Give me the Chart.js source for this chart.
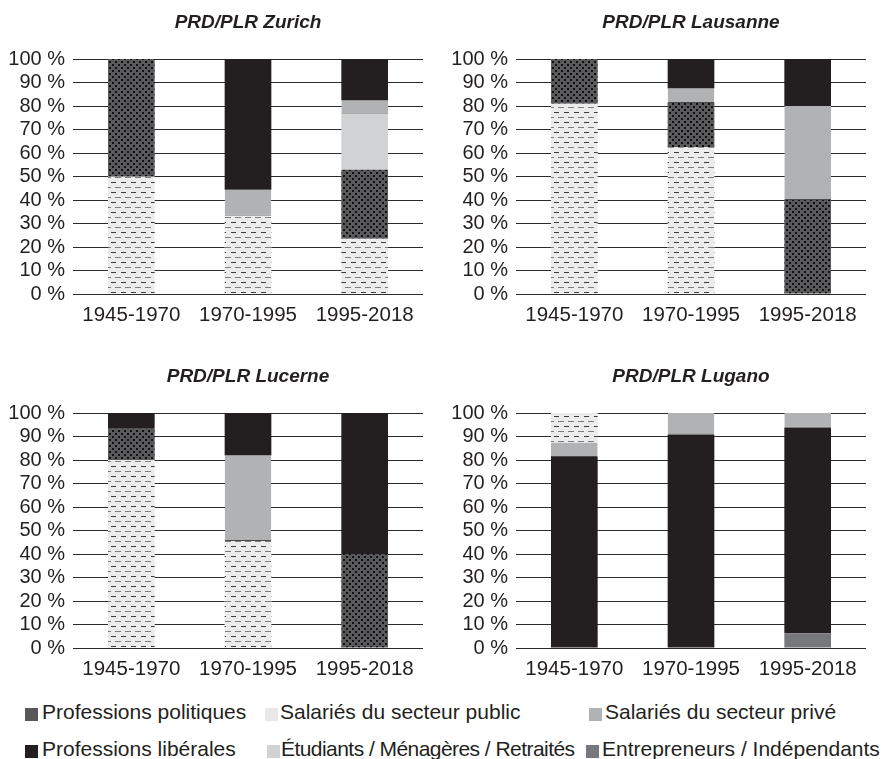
<!DOCTYPE html>
<html lang="fr">
<head>
<meta charset="utf-8">
<title>PRD/PLR – profils professionnels</title>
<script src="https://cdn.jsdelivr.net/npm/chart.js@4.4.1/dist/chart.umd.min.js"></script>
<style>
  html, body { margin: 0; padding: 0; background: #ffffff; }
  body { width: 887px; height: 759px; position: relative; overflow: hidden;
         font-family: "Liberation Sans", Arial, sans-serif; color: #231f20; }
  canvas { position: absolute; }
  .key { position: absolute; font-size: 21px; line-height: 24px; white-space: nowrap; }
  .sw { position: absolute; width: 13px; height: 13px; }
</style>
</head>
<body>
<canvas id="zurich" width="443" height="340" style="left:0;top:0"></canvas>
<canvas id="lausanne" width="443" height="340" style="left:443px;top:0"></canvas>
<canvas id="lucerne" width="443" height="340" style="left:0;top:354px"></canvas>
<canvas id="lugano" width="443" height="340" style="left:443px;top:354px"></canvas>
<div id="legend"></div>

<script>
// Periods on the x axis
const periods = ['1945-1970', '1970-1995', '1995-2018'];

// Occupational groups
const groupNames = {
  politiques: 'Professions politiques',
  public: 'Salariés du secteur public',
  prive: 'Salariés du secteur privé',
  liberales: 'Professions libérales',
  etudiants: 'Étudiants / Ménagères / Retraités',
  entrepreneurs: 'Entrepreneurs / Indépendants'
};

// Share of each group (%) per period, by section
const zurichPolitiques    = [50, 0, 29.4];
const zurichPublic        = [50, 33.3, 23.5];
const zurichPrive         = [0, 11.1, 5.9];
const zurichLiberales     = [0, 55.6, 17.6];
const zurichEtudiants     = [0, 0, 23.5];
const zurichEntrepreneurs = [0, 0, 0];

const lausannePolitiques    = [19, 18.75, 40];
const lausannePublic        = [81, 62.5, 0];
const lausannePrive         = [0, 6.25, 40];
const lausanneLiberales     = [0, 12.5, 20];
const lausanneEtudiants     = [0, 0, 0];
const lausanneEntrepreneurs = [0, 0, 0];

const lucernePolitiques    = [13.3, 0, 40];
const lucernePublic        = [80, 45.5, 0];
const lucernePrive         = [0, 36.4, 0];
const lucerneLiberales     = [6.7, 18.1, 60];
const lucerneEtudiants     = [0, 0, 0];
const lucerneEntrepreneurs = [0, 0, 0];

const luganoPolitiques    = [0, 0, 0];
const luganoPublic        = [12.5, 0, 0];
const luganoPrive         = [6.25, 9.1, 6.25];
const luganoLiberales     = [81.25, 90.9, 87.5];
const luganoEtudiants     = [0, 0, 0];
const luganoEntrepreneurs = [0, 0, 6.25];

// y-axis tick values
const yTicks = [0, 10, 20, 30, 40, 50, 60, 70, 80, 90, 100];

// Stacking order, bottom to top
const stackMain = ['public', 'politiques', 'etudiants', 'prive', 'liberales', 'entrepreneurs'];
const stackLugano = ['entrepreneurs', 'liberales', 'prive', 'public', 'politiques', 'etudiants'];

const FONT = '"Liberation Sans", Arial, Helvetica, sans-serif';
const INK = '#231f20';

// --- fills -------------------------------------------------------------
function dotPattern() {
  const c = document.createElement('canvas');
  c.width = 6; c.height = 6;
  const g = c.getContext('2d');
  g.fillStyle = '#5a5a5c';
  g.fillRect(0, 0, 6, 6);
  g.fillStyle = '#111111';
  g.fillRect(1, 1, 2, 2);
  g.fillRect(4, 4, 2, 2);
  return g.createPattern(c, 'repeat');
}
function dashPattern() {
  const c = document.createElement('canvas');
  c.width = 10; c.height = 10;
  const g = c.getContext('2d');
  g.fillStyle = '#ececec';
  g.fillRect(0, 0, 10, 10);
  g.fillStyle = '#3c3c3c';
  g.fillRect(1, 2, 5, 1);
  g.fillStyle = '#7d7d7d';
  g.fillRect(5, 7, 5, 1);
  g.fillRect(0, 7, 1, 1);
  return g.createPattern(c, 'repeat');
}
const fills = {
  politiques: dotPattern(),
  public: dashPattern(),
  prive: '#b1b2b4',
  liberales: '#231f20',
  etudiants: '#d1d2d4',
  entrepreneurs: '#77787b'
};
const swatch = {
  politiques: '#58585a',
  public: '#e8e8e8',
  prive: '#b1b2b4',
  liberales: '#231f20',
  etudiants: '#d1d2d4',
  entrepreneurs: '#77787b'
};

// --- charts ------------------------------------------------------------
function makeChart(id, title, series, order) {
  return new Chart(document.getElementById(id), {
    type: 'bar',
    data: {
      labels: periods,
      datasets: order.map(k => ({
        label: groupNames[k],
        // empty groups are left out so they draw no edge line
        data: series[k].map(v => (v === 0 ? null : v)),
        backgroundColor: fills[k],
        borderColor: '#4a4a4a',
        borderWidth: k === 'prive' ? { top: 0, left: 0, right: 0, bottom: 1 } : 0,
        borderSkipped: false,
        categoryPercentage: 1,
        barPercentage: 0.4
      }))
    },
    options: {
      responsive: false,
      animation: false,
      devicePixelRatio: 1,
      layout: { padding: { left: 0, right: 20, top: 0, bottom: 0 } },
      plugins: {
        legend: { display: false },
        tooltip: { enabled: false },
        title: {
          display: true,
          fullSize: false,
          text: title,
          color: INK,
          font: { family: FONT, size: 19, weight: 'bold', style: 'italic', lineHeight: 1.2 },
          padding: { top: 11, bottom: 25.2 }
        }
      },
      scales: {
        x: {
          stacked: true,
          grid: { display: false },
          border: { display: false },
          ticks: { color: INK, font: { family: FONT, size: 20.5 }, padding: 1, maxRotation: 0 },
          afterFit: s => { s.height = 46; }
        },
        y: {
          stacked: true,
          min: 0,
          max: 100,
          afterBuildTicks: s => { s.ticks = yTicks.map(v => ({ value: v })); },
          ticks: { color: INK, font: { family: FONT, size: 20 }, padding: 8, autoSkip: false,
                   callback: v => v + ' %' },
          grid: { color: '#2b2b2b', lineWidth: 1, drawTicks: false },
          border: { display: false },
          afterFit: s => { s.width = 73; }
        }
      }
    }
  });
}

makeChart('zurich', 'PRD/PLR Zurich', {
  politiques: zurichPolitiques, public: zurichPublic, prive: zurichPrive,
  liberales: zurichLiberales, etudiants: zurichEtudiants, entrepreneurs: zurichEntrepreneurs
}, stackMain);
makeChart('lausanne', 'PRD/PLR Lausanne', {
  politiques: lausannePolitiques, public: lausannePublic, prive: lausannePrive,
  liberales: lausanneLiberales, etudiants: lausanneEtudiants, entrepreneurs: lausanneEntrepreneurs
}, stackMain);
makeChart('lucerne', 'PRD/PLR Lucerne', {
  politiques: lucernePolitiques, public: lucernePublic, prive: lucernePrive,
  liberales: lucerneLiberales, etudiants: lucerneEtudiants, entrepreneurs: lucerneEntrepreneurs
}, stackMain);
makeChart('lugano', 'PRD/PLR Lugano', {
  politiques: luganoPolitiques, public: luganoPublic, prive: luganoPrive,
  liberales: luganoLiberales, etudiants: luganoEtudiants, entrepreneurs: luganoEntrepreneurs
}, stackLugano);

// --- shared legend -----------------------------------------------------
const legendSlots = [
  { k: 'politiques',    sx: 25,  tx: 42,  row: 0, ls: 0 },
  { k: 'public',        sx: 265, tx: 280, row: 0, ls: 0 },
  { k: 'prive',         sx: 589, tx: 605, row: 0, ls: 0 },
  { k: 'liberales',     sx: 25,  tx: 42,  row: 1, ls: 0 },
  { k: 'etudiants',     sx: 267, tx: 281, row: 1, ls: -0.55 },
  { k: 'entrepreneurs', sx: 586, tx: 602, row: 1, ls: 0 }
];
const rowTop = [700, 737];
const legend = document.getElementById('legend');
legendSlots.forEach(s => {
  const sq = document.createElement('div');
  sq.className = 'sw';
  sq.style.left = s.sx + 'px';
  sq.style.top = (rowTop[s.row] + 8) + 'px';
  sq.style.background = swatch[s.k];
  legend.appendChild(sq);
  const t = document.createElement('div');
  t.className = 'key';
  t.style.left = s.tx + 'px';
  t.style.top = rowTop[s.row] + 'px';
  t.style.letterSpacing = s.ls + 'px';
  t.textContent = groupNames[s.k];
  legend.appendChild(t);
});
</script>
</body>
</html>
